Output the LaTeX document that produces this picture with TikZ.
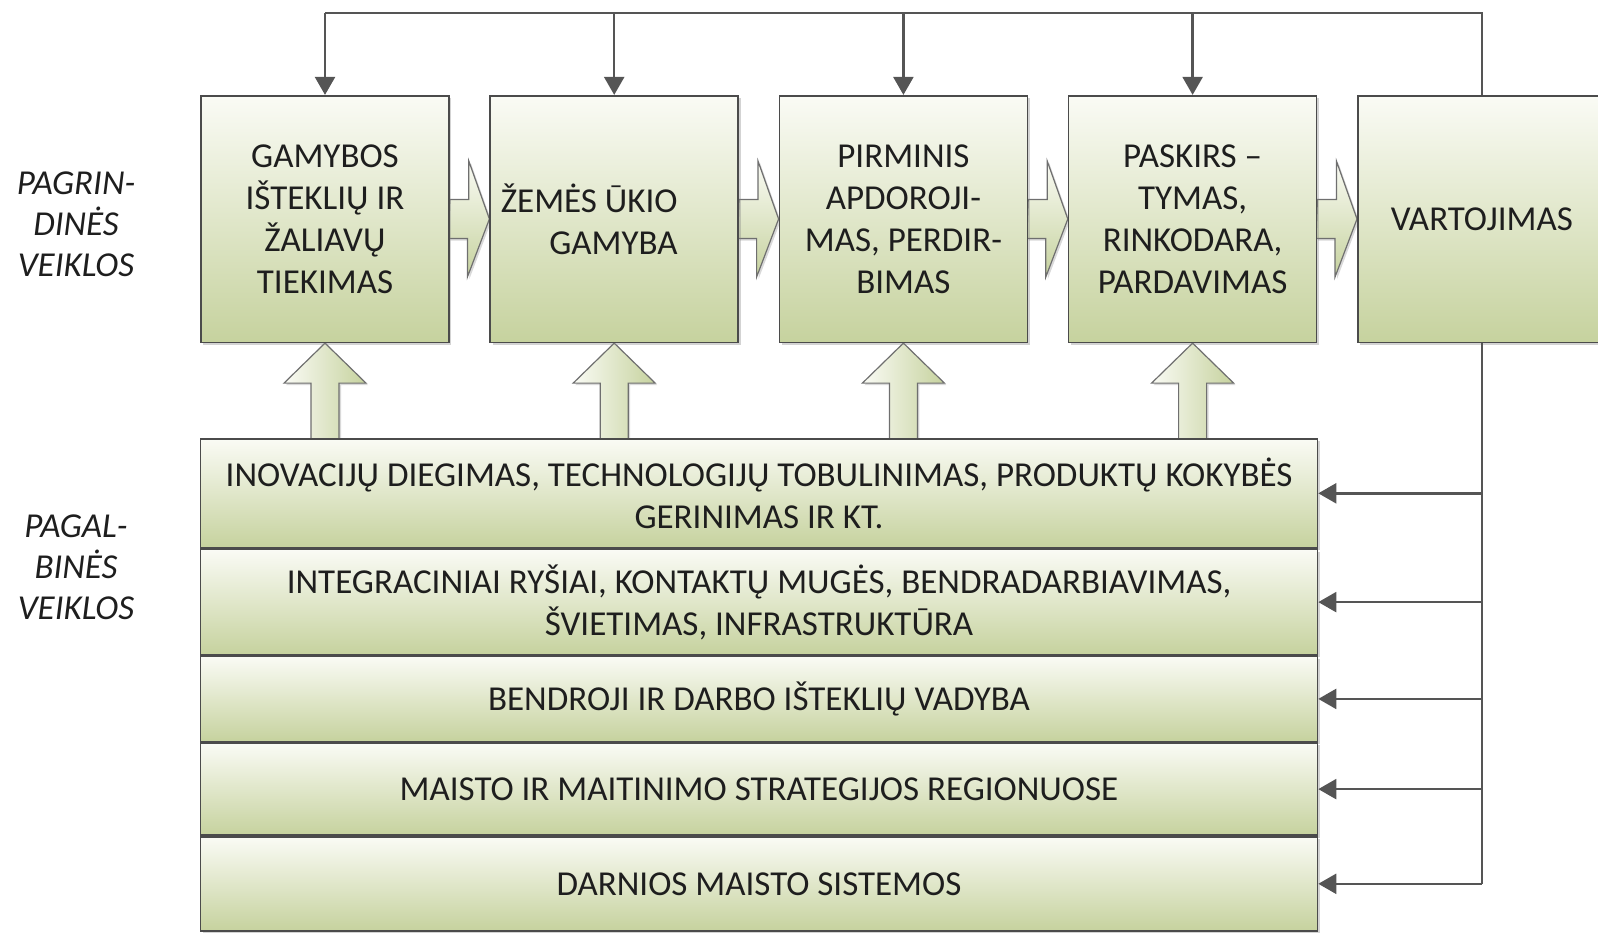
\documentclass[tikz,border=0pt]{standalone}
\usepackage{fontspec}
\setmainfont{Carlito}
\usepackage{xcolor}
\usetikzlibrary{positioning,shadows,backgrounds,arrows.meta}
\definecolor{lightgreen}{RGB}{250,251,245}
\definecolor{darkgreen}{RGB}{198,210,158}
\definecolor{edge}{RGB}{75,75,75}
\definecolor{wire}{RGB}{85,85,85}
\definecolor{ink}{RGB}{30,30,30}

\begin{document}
\begin{tikzpicture}%
  [x=0.5pt,y=-0.5pt,text=ink,font=\fontsize{17.5}{21}\selectfont]
  \tikzstyle{box node}=[rectangle,draw=edge,line width=0.8pt,top color=lightgreen,bottom color=darkgreen,
    minimum width=124pt,minimum height=123.3pt,align=center,inner sep=0pt,
    drop shadow={shadow xshift=1.2pt,shadow yshift=-1.2pt,opacity=0.35}]
  \tikzstyle{row node}=[box node,minimum width=558.5pt]
  \tikzstyle{side label}=[align=center,font=\fontsize{17.5}{20.5}\selectfont\itshape]
  \tikzstyle{side arrow}=[draw=edge!80,line width=0.6pt,top color=lightgreen,bottom color=darkgreen,
    drop shadow={shadow xshift=1pt,shadow yshift=-1pt,opacity=0.3}]
  \tikzstyle{up arrow}=[side arrow,left color=lightgreen,right color=darkgreen]
  \tikzstyle{fb line}=[draw=wire,line width=1.2pt]
  \tikzstyle{fb arrow}=[fb line,-{Triangle[length=9pt,width=10pt]}]
  \clip (0,0) rectangle (1598,932);
  % main activities
  \node[box node] (g1) at (325,219) {GAMYBOS\\IŠTEKLIŲ IR\\ŽALIAVŲ\\TIEKIMAS};
  \node[box node,right=19.8pt of g1,align=right] (g2) {ŽEMĖS ŪKIO\hspace*{25pt}\\GAMYBA\hspace*{25pt}};
  \node[box node,right=19.8pt of g2] (g3) {PIRMINIS\\APDOROJI-\\MAS, PERDIR-\\BIMAS};
  \node[box node,right=19.8pt of g3] (g4) {PASKIRS --\\TYMAS,\\RINKODARA,\\PARDAVIMAS};
  \node[box node,right=19.8pt of g4] (v) {VARTOJIMAS};
  % supporting activities
  \node[row node,minimum height=54.5pt,anchor=north] (r1) at (759,438)
    {INOVACIJŲ DIEGIMAS, TECHNOLOGIJŲ TOBULINIMAS, PRODUKTŲ KOKYBĖS\\GERINIMAS IR KT.};
  \node[row node,minimum height=52.7pt,below=0pt of r1] (r2)
    {INTEGRACINIAI RYŠIAI, KONTAKTŲ MUGĖS, BENDRADARBIAVIMAS,\\ŠVIETIMAS, INFRASTRUKTŪRA};
  \node[row node,minimum height=42.5pt,below=0pt of r2] (r3) {BENDROJI IR DARBO IŠTEKLIŲ VADYBA};
  \node[row node,minimum height=46.1pt,below=0pt of r3] (r4) {MAISTO IR MAITINIMO STRATEGIJOS REGIONUOSE};
  \node[row node,minimum height=47pt,below=0pt of r4] (r5) {DARNIOS MAISTO SISTEMOS};
  % labels
  \node[side label] (main) at (76,224) {PAGRIN-\\DINĖS\\VEIKLOS};
  \node[side label] (supp) at (76,567) {PAGAL-\\BINĖS\\VEIKLOS};
  % block arrows
  \begin{pgfonlayer}{background}
    \foreach \a/\b in {g1/g2,g2/g3,g3/g4,g4/v}
      \draw[side arrow] (\a.east) ++(0,-19.5) -- ++(19,0) -- ++(0,-38.5) -- (\b.west)
        -- ++(-22,58) -- ++(0,-38.5) -- ++(-19,0) -- cycle;
    \foreach \n in {g1,g2,g3,g4}
      \draw[up arrow] (\n.south) -- ++(41,40) -- ++(-27,0) -- ++(0,56) -- ++(-28,0)
        -- ++(0,-56) -- ++(-27,0) -- cycle;
  \end{pgfonlayer}
  % feedback
  \coordinate (top) at (0,13);
  \draw[fb line] (v.north) -- (v.north |- top) -- (g1.north |- top);
  \foreach \n in {g1,g2,g3,g4}
    \draw[fb arrow] (\n.north |- top) -- (\n.north);
  \draw[fb line] (v.south) -- (v.south |- r5.east);
  \foreach \n in {r1,r2,r3,r4,r5}
    \draw[fb arrow] (v.south |- \n.east) -- (\n.east);
\end{tikzpicture}
\end{document}
